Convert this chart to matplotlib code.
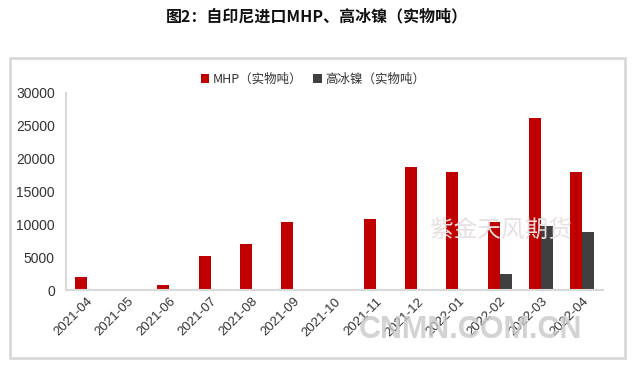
import numpy as np
import matplotlib.pyplot as plt
from matplotlib.patches import Rectangle

plt.rcParams['font.family'] = ['Noto Sans CJK SC', 'DejaVu Sans']

# Data (tonnes, physical)
months = ['2021-04', '2021-05', '2021-06', '2021-07', '2021-08', '2021-09',
          '2021-10', '2021-11', '2021-12', '2022-01', '2022-02', '2022-03', '2022-04']
mhp = [2000, 0, 800, 5200, 7000, 10400, 0, 10800, 18700, 18000, 10300, 26200, 18000]
matte = [0, 0, 0, 0, 0, 0, 0, 0, 0, 0, 2500, 9800, 8900]
yticks = [0, 5000, 10000, 15000, 20000, 25000, 30000]

fig = plt.figure(figsize=(6.33, 3.70), dpi=100)

# outer frame
fig.patches.append(Rectangle((10 / 633, 1 - 358 / 370), 615 / 633, 300 / 370,
                             transform=fig.transFigure, fill=False,
                             edgecolor='#d9d9d9', linewidth=2))

fig.text(0.5, 1 - 16 / 370, '图2：自印尼进口MHP、高冰镍（实物吨）', ha='center', va='center',
         fontsize=11.5, fontweight='bold', color='#111111')

ax = fig.add_axes([66 / 633, 1 - 290 / 370, 537 / 633, 197 / 370])

x = np.arange(len(months))
w = 0.29
ax.bar(x - w / 2, mhp, width=w, color='#C00000', label='MHP（实物吨）')
ax.bar(x + w / 2, matte, width=w, color='#404040', label='高冰镍（实物吨）')

ax.set_xlim(-0.5, len(months) - 0.5)
ax.set_ylim(0, 30000)
ax.set_yticks(yticks)
ax.set_yticklabels([str(v) for v in yticks], fontsize=10, color='#333333',
                   family=['Liberation Sans', 'DejaVu Sans'])
ax.set_xticks(x)
ax.set_xticklabels(months, rotation=45, ha='right', rotation_mode='anchor',
                   fontsize=9.5, color='#333333', family=['Liberation Sans', 'DejaVu Sans'])
ax.tick_params(axis='both', length=0, pad=4)
ax.tick_params(axis='y', pad=8)

for s in ['top', 'right']:
    ax.spines[s].set_visible(False)
for s in ['left', 'bottom']:
    ax.spines[s].set_color('#d9d9d9')
    ax.spines[s].set_linewidth(1.5)

leg = ax.legend(loc='center', bbox_to_anchor=(0.46, 1 + 14 / 197), ncol=2, frameon=False,
                fontsize=9, handlelength=0.7, handleheight=0.7, handletextpad=0.3,
                columnspacing=0.8)
for t in leg.get_texts():
    t.set_color('#333333')

# watermarks
fig.text(430 / 633, 1 - 230 / 370, '紫金天风期货', fontsize=17, color='#e8e0e0',
         ha='left', va='center', zorder=0)
fig.text(470 / 633, 1 - 330 / 370, 'CNMN.COM.CN', fontsize=22, color='#c8c8c8',
         ha='center', va='center', fontweight='bold', alpha=0.8,
         family=['Liberation Sans', 'DejaVu Sans'])

fig.savefig('out.png', dpi=100)
